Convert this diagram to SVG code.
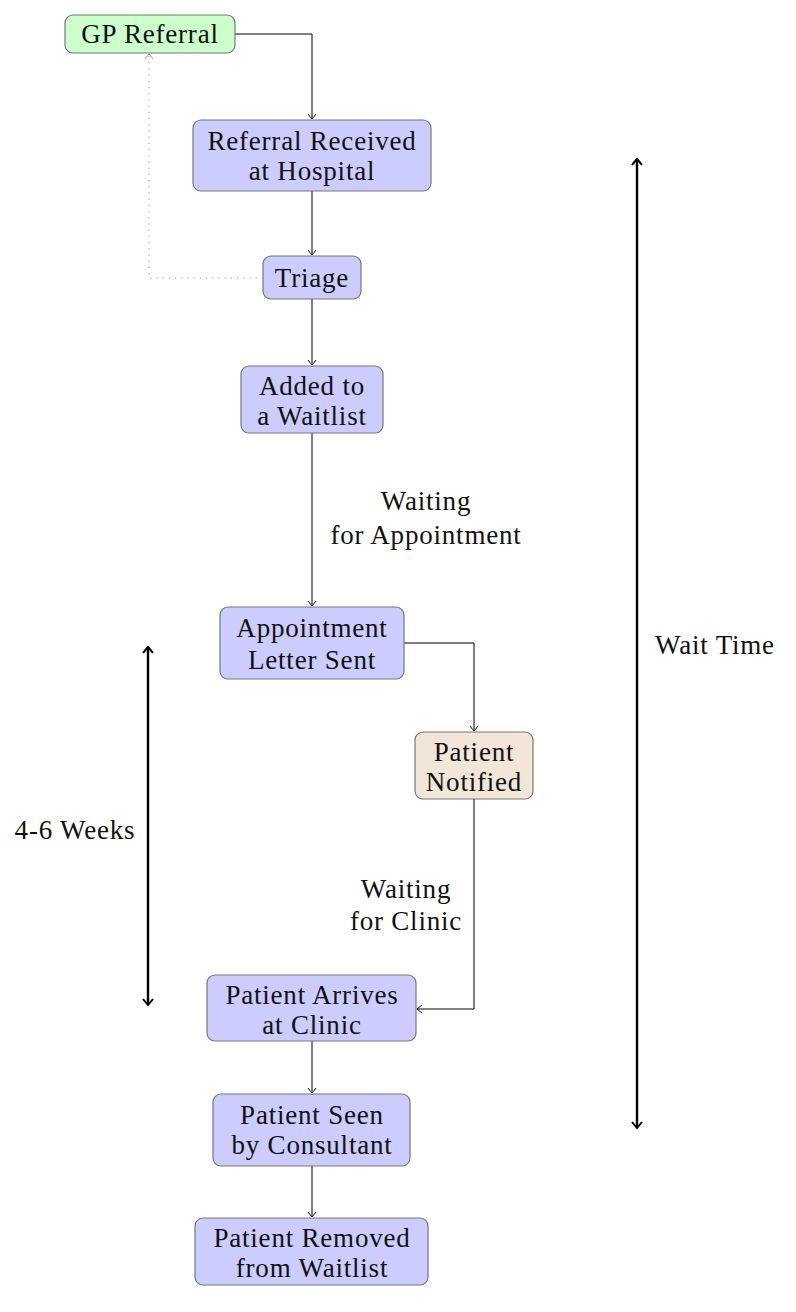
<svg xmlns="http://www.w3.org/2000/svg" width="796" height="1312" viewBox="0 0 796 1312">
<style>
.n rect{fill:#ccccff;stroke:#777;stroke-width:1.2}
.g rect{fill:#ccffcc}
.b rect{fill:#f2e6d9}
text{font-family:"Liberation Serif","DejaVu Serif",serif;font-size:27px;letter-spacing:0.8px;fill:#111;text-anchor:middle}
.c path{fill:none;stroke:#000;stroke-width:1}
.t path{stroke-width:2.4}
</style>
<defs>
<marker id="a" viewBox="-6 -5 8 10" refX="0" refY="0" markerWidth="8" markerHeight="10" markerUnits="userSpaceOnUse" orient="auto-start-reverse">
<path d="M-5,-4 Q-1,-1 0,0 Q-1,1 -5,4" fill="none" stroke="#000" stroke-width="1"/>
</marker>
<marker id="ag" viewBox="-6 -5 8 10" refX="0" refY="0" markerWidth="8" markerHeight="10" markerUnits="userSpaceOnUse" orient="auto">
<path d="M-5,-4 Q-1,-1 0,0 Q-1,1 -5,4" fill="none" stroke="#999" stroke-width="1"/>
</marker>
<marker id="at" viewBox="-8 -6 10 12" refX="0" refY="0" markerWidth="10" markerHeight="12" markerUnits="userSpaceOnUse" orient="auto-start-reverse">
<path d="M-6,-5 Q-1,-1 0,0 Q-1,1 -6,5" fill="none" stroke="#000" stroke-width="2"/>
</marker>
</defs>
<g class="c" id="connectors">
<path d="M235,34 H312 V119" marker-end="url(#a)"/>
<path d="M312,191 V255" marker-end="url(#a)"/>
<path d="M312,299 V365" marker-end="url(#a)"/>
<path d="M312,433 V606" marker-end="url(#a)"/>
<path d="M404,643 H474 V731" marker-end="url(#a)"/>
<path d="M474,799 V1009 H417" marker-end="url(#a)"/>
<path d="M312,1041 V1093" marker-end="url(#a)"/>
<path d="M312,1166 V1217" marker-end="url(#a)"/>
<path d="M263,278 H149 V54" stroke-dasharray="1.2,5" marker-end="url(#ag)" style="stroke:#999"/>
<g class="t">
<path d="M637,159 V1128" marker-start="url(#at)" marker-end="url(#at)"/>
<path d="M148,647 V1005" marker-start="url(#at)" marker-end="url(#at)"/>
</g>
</g>
<g class="n g" id="gp"><rect x="65" y="15" width="170" height="38" rx="8"/><text x="150" y="43">GP Referral</text></g>
<g class="n" id="received"><rect x="193" y="120" width="238" height="71" rx="8"/><text x="312" y="150">Referral Received</text><text x="312" y="180">at Hospital</text></g>
<g class="n" id="triage"><rect x="263" y="256" width="98" height="43" rx="8"/><text x="312" y="287">Triage</text></g>
<g class="n" id="waitlist"><rect x="241" y="366" width="142" height="67" rx="8"/><text x="312" y="395">Added to</text><text x="312" y="425">a Waitlist</text></g>
<g class="n" id="letter"><rect x="220" y="607" width="184" height="72" rx="8"/><text x="312" y="637">Appointment</text><text x="312" y="669">Letter Sent</text></g>
<g class="n b" id="notified"><rect x="415" y="732" width="118" height="67" rx="8"/><text x="474" y="761">Patient</text><text x="474" y="791">Notified</text></g>
<g class="n" id="arrives"><rect x="207" y="975" width="209" height="66" rx="8"/><text x="312" y="1004">Patient Arrives</text><text x="312" y="1034">at Clinic</text></g>
<g class="n" id="seen"><rect x="213" y="1094" width="197" height="72" rx="8"/><text x="312" y="1124">Patient Seen</text><text x="312" y="1154">by Consultant</text></g>
<g class="n" id="removed"><rect x="195" y="1218" width="233" height="67" rx="8"/><text x="312" y="1247">Patient Removed</text><text x="312" y="1277">from Waitlist</text></g>
<g id="labels">
<text x="426" y="510">Waiting</text><text x="426" y="544">for Appointment</text>
<text x="406" y="898">Waiting</text><text x="406" y="930">for Clinic</text>
<text x="715" y="654">Wait Time</text>
<text x="75" y="839">4-6 Weeks</text>
</g>
</svg>
